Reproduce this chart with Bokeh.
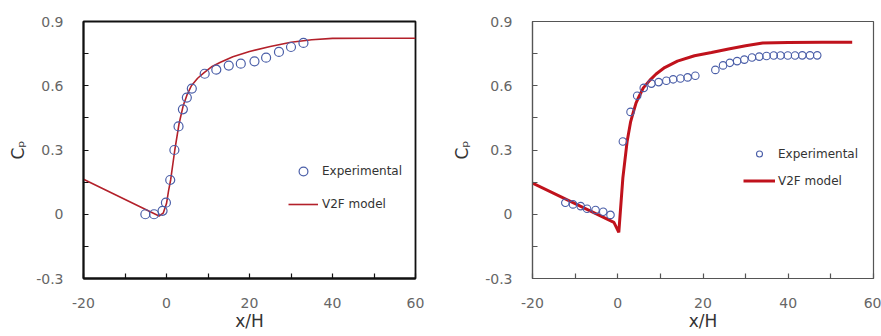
from bokeh.plotting import figure
from bokeh.layouts import row
from bokeh.models import Range1d, FixedTicker, CustomJSTickFormatter, Legend, LegendItem
from bokeh.embed import file_html
from bokeh.resources import INLINE

# ---- data: left panel ----
exp1_x = [-5.1, -3.0, -0.95, -0.14, 0.9, 1.9, 2.9, 3.95, 4.9, 6.1, 9.2, 12.0, 15.0, 17.9, 21.2, 24.0, 27.1, 30.0, 33.0]
exp1_y = [0.0, 0.0, 0.016, 0.054, 0.16, 0.30, 0.41, 0.49, 0.545, 0.587, 0.656, 0.675, 0.694, 0.703, 0.714, 0.731, 0.758, 0.781, 0.80]
mod1_x = [-20, -1.8, -0.8, 0, 0.5, 1.0, 2.0, 3.0, 4.0, 5.0, 6.0, 7.5, 9, 11, 13, 16, 20, 25, 30, 35, 40, 50, 60]
mod1_y = [0.163, -0.008, 0.005, 0.05, 0.11, 0.16, 0.30, 0.42, 0.505, 0.56, 0.60, 0.635, 0.66, 0.69, 0.71, 0.735, 0.76, 0.783, 0.803, 0.815, 0.821, 0.822, 0.822]

# ---- data: right panel ----
exp2_x = [-12.3, -10.5, -8.7, -7.2, -5.2, -3.4, -1.7, 1.2, 3.0, 4.56, 6.1, 7.9, 9.6, 11.4, 13.0, 14.7, 16.4, 18.2,
          22.9, 24.7, 26.3, 28.0, 29.7, 31.5, 33.2, 34.9, 36.6, 38.2, 39.9, 41.6, 43.3, 45.1, 46.8]
exp2_y = [0.054, 0.046, 0.038, 0.026, 0.020, 0.012, -0.003, 0.34, 0.478, 0.553, 0.59, 0.61, 0.617, 0.623, 0.63, 0.634, 0.639, 0.647,
          0.674, 0.695, 0.707, 0.715, 0.722, 0.732, 0.736, 0.739, 0.741, 0.741, 0.741, 0.741, 0.742, 0.742, 0.742]
mod2_x = [-20, -0.9, 0.25, 1.2, 2.2, 3.0, 3.7, 4.3, 5.0, 6.0, 7.5, 9.0, 11, 14, 18, 22, 26, 30, 34, 40, 48, 55]
mod2_y = [0.145, -0.038, -0.085, 0.17, 0.34, 0.43, 0.48, 0.52, 0.55, 0.59, 0.625, 0.655, 0.685, 0.715, 0.74, 0.755, 0.772, 0.787, 0.80, 0.802, 0.803, 0.803]

x_ticks = [-20, 0, 20, 40, 60]
x_minor = [-10, 10, 30, 50]
y_ticks = [-0.3, 0, 0.3, 0.6, 0.9]
y_minor = [-0.15, 0.15, 0.45, 0.75]

FONT = "DejaVu Sans"
fmt = CustomJSTickFormatter(code="return tick.toString();")


def make_panel(width, bl, br, bt, bb, frame_color, frame_w, ylab_standoff):
    p = figure(width=width, height=336, output_backend="svg", toolbar_location=None,
               x_range=Range1d(-20, 60), y_range=Range1d(-0.3, 0.9),
               min_border_left=bl, min_border_right=br, min_border_top=bt, min_border_bottom=bb)
    p.grid.visible = False
    p.outline_line_color = frame_color
    p.outline_line_width = frame_w
    p.outline_line_alpha = 1
    p.background_fill_color = "white"
    p.border_fill_color = "white"
    p.xaxis.ticker = FixedTicker(ticks=x_ticks, minor_ticks=x_minor)
    p.yaxis.ticker = FixedTicker(ticks=y_ticks, minor_ticks=y_minor)
    for ax in (p.xaxis[0], p.yaxis[0]):
        ax.formatter = fmt
        ax.axis_line_color = frame_color
        ax.axis_line_width = frame_w
        ax.major_tick_line_color = frame_color
        ax.minor_tick_line_color = frame_color
        ax.major_tick_in = 5
        ax.major_tick_out = 0
        ax.minor_tick_in = 5
        ax.minor_tick_out = 0
        ax.major_tick_line_width = 1.2
        ax.minor_tick_line_width = 1.2
        ax.major_label_text_font = FONT
        ax.major_label_text_font_size = "14px"
        ax.major_label_text_color = "#666666"
        ax.axis_label_text_font = FONT
        ax.axis_label_text_font_style = "normal"
        ax.axis_label_text_color = "#333333"
        ax.axis_label_text_font_size = "17px"
    p.xaxis.major_label_standoff = 19
    p.yaxis.major_label_standoff = 20
    p.xaxis.axis_label = "x/H"
    p.xaxis.axis_label_standoff = 0
    p.yaxis.axis_label = "Cₚ"
    p.yaxis.axis_label_standoff = ylab_standoff
    return p


# Left panel
p1 = make_panel(440, 83, 25, 21, 58, "#111111", 1.8, 5)
l1 = p1.line(mod1_x, mod1_y, line_color="#b3202a", line_width=1.6)
s1 = p1.scatter(exp1_x, exp1_y, marker="circle", size=9, fill_color=None,
                line_color="#4a5ea8", line_width=1.2)
leg1 = Legend(items=[LegendItem(label="Experimental", renderers=[s1]),
                     LegendItem(label="V2F model", renderers=[l1])],
              location=(205, 63), glyph_width=30, glyph_height=22, label_height=22,
              spacing=11, padding=0, margin=0, label_standoff=4,
              label_text_font=FONT, label_text_font_size="12px", label_text_color="#333333",
              border_line_color=None, background_fill_alpha=0)
p1.add_layout(leg1)

# Right panel
p2 = make_panel(441, 92, 8, 19, 56, "#555555", 1.2, 10)
l2 = p2.line(mod2_x, mod2_y, line_color="#c0121c", line_width=3)
s2 = p2.scatter(exp2_x, exp2_y, marker="circle", size=7.5, fill_color=None,
                line_color="#4a5ea8", line_width=1.1)
leg2 = Legend(items=[LegendItem(label="Experimental", renderers=[s2]),
                     LegendItem(label="V2F model", renderers=[l2])],
              location=(211, 90), glyph_width=32, glyph_height=15, label_height=15,
              spacing=12, padding=0, margin=0, label_standoff=3,
              label_text_font=FONT, label_text_font_size="12px", label_text_color="#333333",
              border_line_color=None, background_fill_alpha=0)
p2.add_layout(leg2)

layout = row(p1, p2)
open("out.html", "w").write(file_html(layout, INLINE))
